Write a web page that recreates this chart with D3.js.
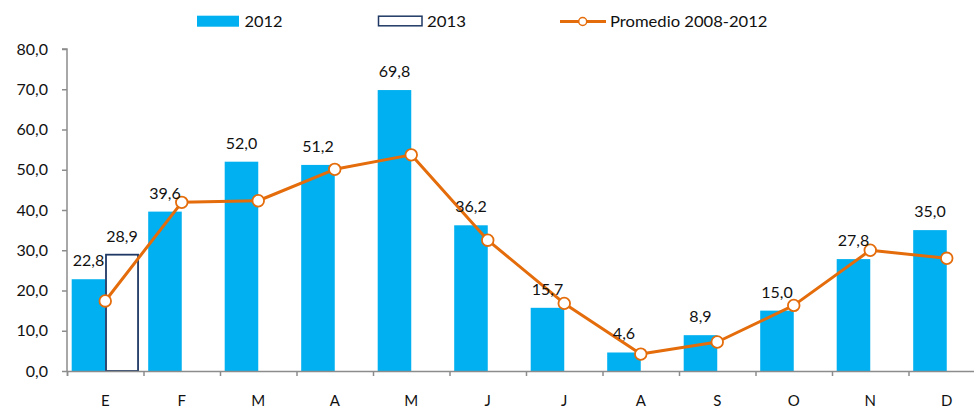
<!DOCTYPE html>
<html>
<head>
<meta charset="utf-8">
<script src="https://cdn.jsdelivr.net/npm/d3@7"></script>
<style>
  html, body { margin: 0; padding: 0; background: #fff; }
  svg { display: block; }
  text { font-family: Lato, "Liberation Sans", sans-serif; fill: #111; }
</style>
</head>
<body>
<svg id="chart" width="974" height="408"></svg>
<script>
const categories = ["E","F","M","A","M","J","J","A","S","O","N","D"];
const seriesNames = ["2012","2013"];
const values2012 = [22.8, 39.6, 52.0, 51.2, 69.8, 36.2, 15.7, 4.6, 8.9, 15.0, 27.8, 35.0];
const values2013 = [28.9, null, null, null, null, null, null, null, null, null, null, null];
const promedioName = "Promedio 2008-2012";
const promedio = [17.4, 41.9, 42.3, 50.1, 53.7, 32.5, 16.8, 4.2, 7.2, 16.3, 30.0, 28.0];
const yTicks = [0, 10, 20, 30, 40, 50, 60, 70, 80];

(function () {
const locale = d3.formatLocale({decimal: ",", thousands: ".", grouping: [3], currency: ["", ""]});
const fmt = locale.format(".1f");

const svg = d3.select("#chart");
const mLeft = 67, mRight = 985, mTop = 49, mBottom = 371;
const axisColor = "#8c8c8c";
const blue = "#00B0F0", navy = "#1F3864", orange = "#E46C0A";

const x = d3.scaleBand().domain(d3.range(categories.length)).range([mLeft, mRight]).padding(0);
const xLin = d3.scaleLinear().domain([0, categories.length]).range([mLeft, mRight]);
const xs = d3.scaleBand().domain(seriesNames).range([0, x.bandwidth()]).paddingOuter(0.14).paddingInner(0);
const y = d3.scaleLinear().domain([0, 80]).range([mBottom, mTop]);

// Y axis
const yAxis = svg.append("g").attr("transform", `translate(${mLeft},0)`)
  .call(d3.axisLeft(y).tickValues(yTicks).tickFormat(fmt).tickSize(5).tickPadding(14));
yAxis.selectAll("path, line").attr("stroke", axisColor).attr("stroke-width", 1.5);
yAxis.select(".domain").attr("d", `M-5,${y(80)}H0V${y(0)}`);
yAxis.selectAll("text").style("font-size", "16px").attr("fill", "#111").style("font-family", "Lato, sans-serif");

// bars
const barData = [];
categories.forEach((c, i) => {
  barData.push({i, s: "2012", v: values2012[i]});
  if (values2013[i] != null) barData.push({i, s: "2013", v: values2013[i]});
});
const bars = svg.append("g");
bars.selectAll("rect").data(barData).join("rect")
  .attr("x", d => x(d.i) + xs(d.s) + (d.s === "2013" ? 0.75 : 0))
  .attr("width", d => xs.bandwidth() - (d.s === "2013" ? 1.5 : 0))
  .attr("y", d => y(d.v))
  .attr("height", d => y(0) - y(d.v))
  .attr("fill", d => d.s === "2012" ? blue : "#fff")
  .attr("stroke", d => d.s === "2012" ? "none" : navy)
  .attr("stroke-width", 1.8);

// X axis
const xTicks = svg.append("g").attr("transform", `translate(0,${mBottom})`)
  .call(d3.axisBottom(xLin).tickValues(d3.range(categories.length + 1)).tickFormat("").tickSize(5));
xTicks.selectAll("path, line").attr("stroke", axisColor).attr("stroke-width", 1.5);
const xLabels = svg.append("g").attr("transform", `translate(0,${mBottom})`)
  .call(d3.axisBottom(x).tickFormat(i => categories[i]).tickSize(0).tickPadding(24));
xLabels.select(".domain").remove();
xLabels.selectAll("text").style("font-size", "15px").attr("fill", "#111").style("font-family", "Lato, sans-serif");

// line
const lineGen = d3.line().x((d, i) => x(i) + x.bandwidth() / 2).y(d => y(d));
svg.append("path").datum(promedio).attr("d", lineGen)
  .attr("fill", "none").attr("stroke", orange).attr("stroke-width", 3).attr("stroke-linejoin", "round");
svg.append("g").selectAll("circle").data(promedio).join("circle")
  .attr("cx", (d, i) => x(i) + x.bandwidth() / 2).attr("cy", d => y(d)).attr("r", 5.8)
  .attr("fill", "#fff").attr("stroke", orange).attr("stroke-width", 1.8);

// data labels
svg.append("g").selectAll("text").data(barData).join("text")
  .attr("x", d => x(d.i) + xs(d.s) + xs.bandwidth() / 2)
  .attr("y", d => y(d.v) - 13)
  .attr("text-anchor", "middle")
  .style("font-size", "16px")
  .text(d => fmt(d.v));

// legend
const lg = svg.append("g");
lg.append("rect").attr("x", 197).attr("y", 15.7).attr("width", 42).attr("height", 11).attr("fill", blue);
lg.append("text").attr("x", 244.5).attr("y", 26.5).style("font-size", "16px")
  .attr("textLength", 38).attr("lengthAdjust", "spacingAndGlyphs").text(seriesNames[0]);
lg.append("rect").attr("x", 378.5).attr("y", 16.2).attr("width", 43.5).attr("height", 9.6)
  .attr("fill", "#fff").attr("stroke", navy).attr("stroke-width", 1.5);
lg.append("text").attr("x", 427).attr("y", 26.5).style("font-size", "16px")
  .attr("textLength", 39).attr("lengthAdjust", "spacingAndGlyphs").text(seriesNames[1]);
lg.append("line").attr("x1", 560).attr("x2", 606).attr("y1", 21.5).attr("y2", 21.5)
  .attr("stroke", orange).attr("stroke-width", 3);
lg.append("circle").attr("cx", 582.7).attr("cy", 21.5).attr("r", 4)
  .attr("fill", "#fff").attr("stroke", orange).attr("stroke-width", 1.5);
lg.append("text").attr("x", 610).attr("y", 26.5).style("font-size", "16px")
  .attr("textLength", 157.5).attr("lengthAdjust", "spacingAndGlyphs").text(promedioName);
})();
</script>
</body>
</html>
